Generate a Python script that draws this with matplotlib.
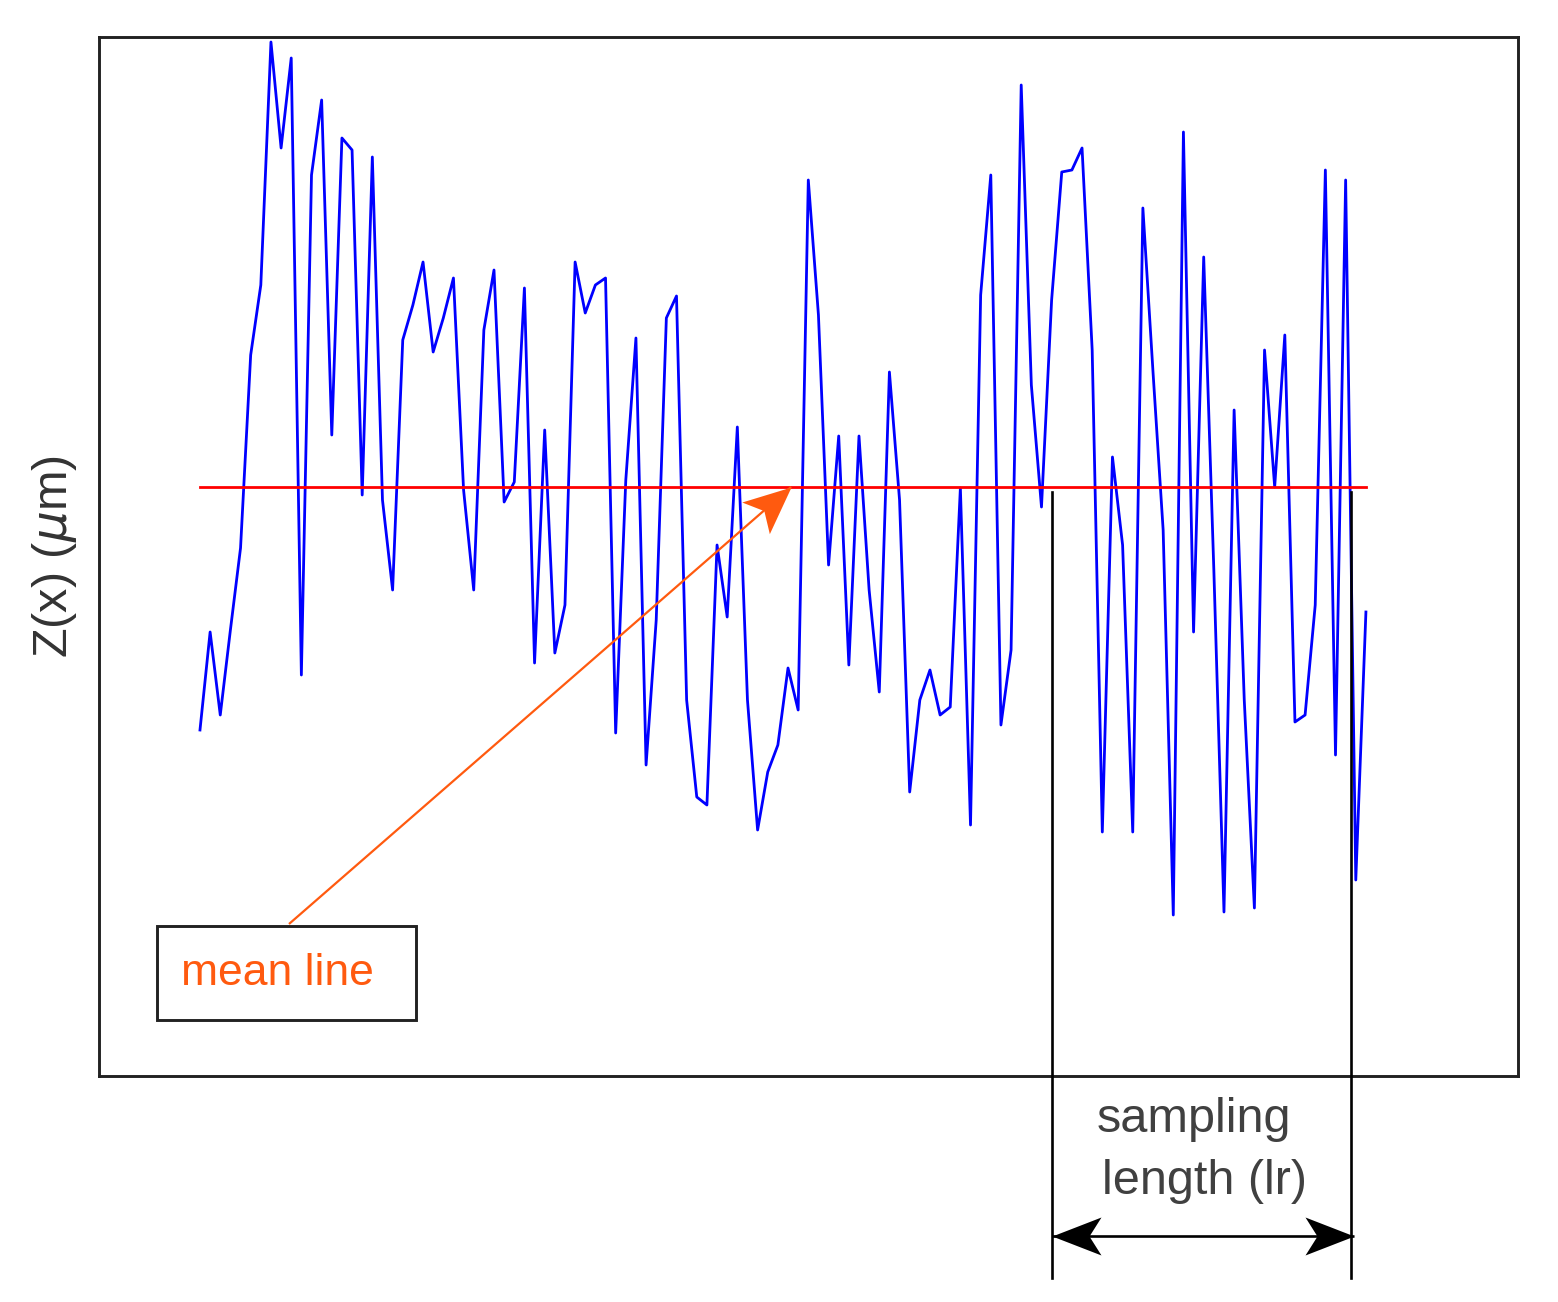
import math
import matplotlib
matplotlib.use("Agg")
import matplotlib.pyplot as plt
from matplotlib.patches import Rectangle
from matplotlib.path import Path
from matplotlib.markers import MarkerStyle
from matplotlib.transforms import Affine2D

plt.rcParams["font.family"] = ["Liberation Sans", "DejaVu Sans"]

# surface profile Z(x), um, one value per sample
z = [-2.43, -1.45, -2.28, -1.43, -0.61, 1.32, 2.02, 4.45, 3.39, 4.29,
     -1.88, 3.12, 3.87, 0.52, 3.49, 3.37, -0.08, 3.30, -0.13, -1.03,
     1.47, 1.82, 2.25, 1.35, 1.69, 2.09, -0.03, -1.03, 1.57, 2.17,
     -0.15, 0.05, 1.99, -1.76, 0.57, -1.66, -1.18, 2.25, 1.74, 2.02,
     2.09, -2.46, 0.07, 1.49, -2.78, -1.33, 1.69, 1.91, -2.13, -3.10,
     -3.18, -0.58, -1.30, 0.60, -2.13, -3.43, -2.85, -2.58, -1.81, -2.23,
     3.07, 1.72, -0.78, 0.51, -1.78, 0.51, -1.03, -2.05, 1.15, -0.13,
     -3.05, -2.13, -1.83, -2.28, -2.20, -0.01, -3.38, 1.92, 3.12, -2.38,
     -1.63, 4.02, 1.02, -0.20, 1.87, 3.15, 3.17, 3.39, 1.37, -3.45,
     0.30, -0.58, -3.45, 2.79, 1.15, -0.43, -4.28, 3.55, -1.45, 2.30,
     -0.83, -4.25, 0.77, -2.13, -4.21, 1.37, 0.00, 1.52, -2.35, -2.28,
     -1.18, 3.17, -2.68, 3.07, -3.93, -1.25]
x = list(range(len(z)))
mean_z = 0.0
lr_start, lr_end = 84.0, 113.5   # sampling length (sample index)

W, H = 1558, 1302
fig = plt.figure(figsize=(W / 100, H / 100), dpi=100)
ax = fig.add_axes([99 / W, 1 - 1076 / H, (1518 - 99) / W, (1076 - 37) / H])
ax.set_xlim(-9.96, 130.0)
ax.set_ylim(-5.89, 4.50)
ax.set_xticks([]); ax.set_yticks([])
for s in ax.spines.values():
    s.set_linewidth(2.1); s.set_color("#222222")


def arrow(tail, tip, color, lw, head_len=46, half_w=18, notch=12, both=False):
    """line with notched (stealth) heads, sizes in pixels"""
    p0 = ax.transData.transform(tail); p1 = ax.transData.transform(tip)
    ang = math.degrees(math.atan2(p1[1] - p0[1], p1[0] - p0[0]))
    L = head_len
    verts = [(0, 0), (-1, half_w / L), (-(L - notch) / L, 0), (-1, -half_w / L), (0, 0)]
    head = Path(verts, [Path.MOVETO, Path.LINETO, Path.LINETO, Path.LINETO, Path.CLOSEPOLY])
    ends = [(tip, ang)] + ([(tail, ang + 180)] if both else [])
    ax.plot([tail[0], tip[0]], [tail[1], tip[1]], color=color, lw=lw,
            clip_on=False, zorder=6, solid_capstyle="butt")
    for pt, a in ends:
        m = MarkerStyle(head, transform=Affine2D().rotate_deg(a))
        ax.plot([pt[0]], [pt[1]], marker=m, ms=2 * L * 0.72, color=color,
                mec="none", ls="none", clip_on=False, zorder=7)


ax.plot(x, z, color="#0000ff", lw=2.0, zorder=3)
ax.plot([x[0], x[-1]], [mean_z, mean_z], color="#ff0000", lw=2.0, zorder=4)

orange = "#ff5a0f"
ax.add_patch(Rectangle((-4.24, -5.33), 25.5, 0.94, fill=False,
                       ec="#222222", lw=2.1, zorder=5))
ax.text(-1.9, -4.86, "mean line", color=orange, fontsize=32,
        ha="left", va="center", zorder=6)
arrow((8.78, -4.37), (58.3, mean_z), orange, lw=1.6, head_len=47, half_w=21, notch=11)

# sampling length markers (below the axes)
for xv in (lr_start, lr_end):
    ax.plot([xv, xv], [-0.05, -7.91], color="black", lw=1.9,
            clip_on=False, zorder=5)
arrow((lr_start, -7.49), (lr_end + 0.3, -7.49), "black", lw=1.9,
      head_len=49, half_w=19, notch=12, both=True)
ax.text(98.0, -6.33, "sampling", fontsize=35, color="#404040",
        ha="center", va="center", clip_on=False)
ax.text(99.1, -6.95, "length (lr)", fontsize=35, color="#404040",
        ha="center", va="center", clip_on=False)

fig.text(55 / W, 1 - 557 / H, r"Z(x) ($\mu$m)", rotation=90, fontsize=35,
         color="#333333", ha="center", va="center")

fig.savefig("out.png", dpi=100)
